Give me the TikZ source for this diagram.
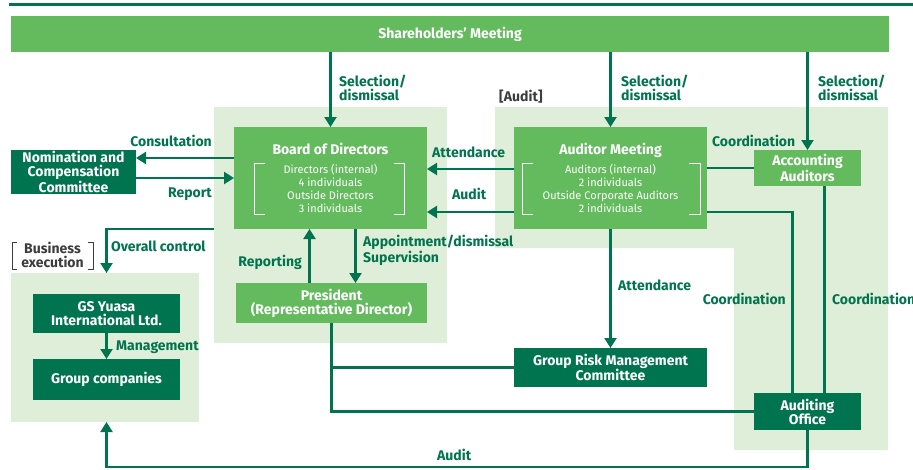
\documentclass[tikz,border=0pt]{standalone}
\usepackage{fontspec}
\setmainfont{Fira Sans}
\usetikzlibrary{arrows.meta,calc}
\definecolor{gsgreen}{RGB}{99,187,94}
\definecolor{gsdark}{RGB}{0,116,78}
\definecolor{gspale}{RGB}{222,238,216}
\definecolor{gsgray}{RGB}{60,60,60}
\tikzset{
  box/.style={fill=gsgreen,text=white,inner sep=0pt,outer sep=0pt,align=center,font=\fontsize{14}{14}\selectfont\bfseries},
  darkbox/.style={box,fill=gsdark},
  area/.style={fill=gspale,inner sep=0pt,outer sep=0pt},
  lbl/.style={text=gsdark,inner sep=0pt,align=left,font=\fontsize{14}{14}\selectfont\bfseries},
  conn/.style={draw=gsdark,line width=2.2pt},
  arr/.style={conn,-{Triangle[width=12pt,length=10pt]}},
  bracket/.style={draw=white,line width=1pt},
}
\newcommand{\boxtitle}[1]{{\fontsize{14}{14}\selectfont\bfseries #1}}
\begin{document}
\begin{tikzpicture}[x=1pt,y=-1pt]
    \useasboundingbox (0,0) rectangle (913,469);
    \draw[gsdark,line width=2.3pt] (9,4.5) -- (913,4.5);

    \node[area,minimum width=233pt,minimum height=236pt] (bodarea) at (330.5,225) {};
    \node[area,minimum width=188pt,minimum height=149pt] (bizarea) at (105,347.5) {};
    \fill[gspale] (495,107) -- (888,107) -- (888,450) -- (734,450) -- (734,248) -- (495,248) -- cycle;

    \node[box,minimum width=878pt,minimum height=36pt] (sm) at (450,34) {Shareholders’ Meeting};
    \node[box,minimum width=193pt,minimum height=102pt,font=\fontsize{11}{13}\selectfont] (bod) at (330.5,178)
        {\boxtitle{Board of Directors}\\[6pt] Directors (internal)\\ 4 individuals\\ Outside Directors\\ 3 individuals};
    \node[box,minimum width=193pt,minimum height=102pt,font=\fontsize{11}{13}\selectfont] (am) at (610.5,178)
        {\boxtitle{Auditor Meeting}\\[6pt] Auditors (internal)\\ 2 individuals\\ Outside Corporate Auditors\\ 2 individuals};
    \node[darkbox,minimum width=125pt,minimum height=44pt] (nom) at (73.5,172) {Nomination and\\Compensation\\Committee};
    \node[box,minimum width=107pt,minimum height=36pt] (aa) at (807.5,168) {Accounting\\Auditors};
    \node[darkbox,minimum width=147pt,minimum height=39pt] (gs) at (106.5,313.5) {GS Yuasa\\International Ltd.};
    \node[darkbox,minimum width=147pt,minimum height=41pt] (gc) at (106.5,379.5) {Group companies};
    \node[box,minimum width=191pt,minimum height=40pt] (pres) at (331.5,303) {President\\(Representative Director)};
    \node[darkbox,minimum width=193pt,minimum height=39pt] (grm) at (610.5,367.5) {Group Risk Management\\Committee};
    \node[darkbox,minimum width=107pt,minimum height=37pt] (ao) at (807.5,411.5) {Auditing\\Office};

    \draw[bracket] ($(bod.center)+(-65.5,-15)$) -- ++(-11,0) -- ++(0,51) -- ++(11,0);
    \draw[bracket] ($(bod.center)+(63.5,-15)$) -- ++(10,0) -- ++(0,51) -- ++(-10,0);
    \draw[bracket] ($(am.center)+(-77.5,-15)$) -- ++(-11,0) -- ++(0,51) -- ++(11,0);
    \draw[bracket] ($(am.center)+(78.5,-15)$) -- ++(11,0) -- ++(0,51) -- ++(-11,0);
    \draw[gsgray,line width=1pt] (17,242) -- (12,242) -- (12,269) -- (17,269)
        (88,242) -- (93,242) -- (93,269) -- (88,269);

    \coordinate (consult) at ([yshift=14pt]nom.east);
    \coordinate (attend) at ([yshift=9pt]am.west);
    \coordinate (audit) at ([yshift=-34pt]am.west);
    \coordinate (rep) at ([xshift=-22pt]pres.north);
    \coordinate (appt) at ([xshift=24pt]pres.north);
    \coordinate (aoleft) at ([xshift=-15pt]ao.north);
    \coordinate (aoright) at ([xshift=17pt]ao.north);
    \coordinate (auditbase) at ([yshift=-37pt]ao.south);

    \draw[arr] (sm.south -| bod.north) -- (bod.north);
    \draw[arr] (sm.south -| am.north) -- (am.north);
    \draw[arr] (sm.south -| aa.north) -- (aa.north);
    \draw[arr] (consult -| bod.west) -- (consult);
    \draw[arr] (bod.west -| nom.east) -- (bod.west);
    \draw[arr] (attend) -- (attend -| bod.east);
    \draw[arr] (audit) -- (audit -| bod.east);
    \draw[conn] (aa.west -| am.east) -- (aa.west);
    \draw[arr] (bodarea.west |- bod.south) -| (gs |- bizarea.north);
    \draw[arr] (rep) -- (rep |- bod.south);
    \draw[arr] (appt |- bod.south) -- (appt);
    \draw[arr] (gs.south) -- (gc.north);
    \draw[arr] (am.south) -- (grm.north);
    \draw[conn] (pres.south) |- (ao.west);
    \draw[conn] (pres.south |- grm.west) -- (grm.west);
    \draw[conn] (audit -| am.east) -| (aoleft);
    \draw[conn] (aoright |- aa.south) -- (aoright);
    \draw[arr] (ao.south) -- (auditbase) -| (gs |- bizarea.south);

    \node[lbl,anchor=west] (selbod) at (339,88) {Selection/\\dismissal};
    \node[lbl,anchor=west] (selam) at (621,88) {Selection/\\dismissal};
    \node[lbl,anchor=west] (selaa) at (818,88) {Selection/\\dismissal};
    \node[lbl,anchor=east] (lconsult) at (212,141) {Consultation};
    \node[lbl,anchor=east] (lreport) at (212,194) {Report};
    \node[lbl,anchor=west] (lattend) at (432,152) {Attendance};
    \node[lbl,anchor=west] (laudit) at (452,194) {Audit};
    \node[lbl,anchor=west,text=gsgray] (lauditarea) at (499,97) {[Audit]};
    \node[lbl,anchor=west] (lcoordaa) at (712,141) {Coordination};
    \node[lbl,anchor=west] (lcontrol) at (111,246) {Overall control};
    \node[lbl,align=center,text=gsgray] (lbiz) at (52.5,255) {Business\\execution};
    \node[lbl,anchor=east] (lrep) at (302,262) {Reporting};
    \node[lbl,anchor=west] (lappt) at (363,250.5) {Appointment/dismissal\\Supervision};
    \node[lbl,anchor=west] (lmanage) at (116,347) {Management};
    \node[lbl,anchor=west] (lattgrm) at (618,285) {Attendance};
    \node[lbl,anchor=east] (lcoordam) at (786,299) {Coordination};
    \node[lbl,anchor=west] (lcoordao) at (832,299) {Coordination};
    \node[lbl,anchor=west] (lauditgrp) at (437,455) {Audit};
\end{tikzpicture}
\end{document}
